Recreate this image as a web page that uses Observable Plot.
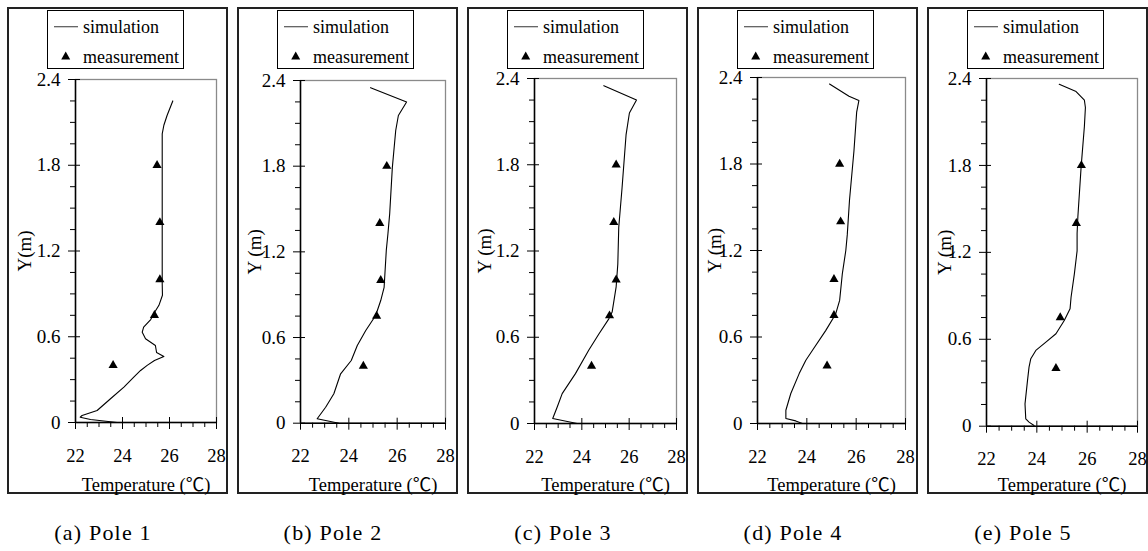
<!DOCTYPE html>
<html><head><meta charset="utf-8">
<script src="https://cdn.jsdelivr.net/npm/d3@7"></script>
<script src="https://cdn.jsdelivr.net/npm/@observablehq/plot@0.6"></script>
<style>
body{margin:0;background:#fff;}
#wrap{position:relative;width:1148px;height:551px;overflow:hidden;font-family:"Liberation Serif","Times New Roman","Noto Sans CJK SC",serif;color:#000;}
.box{position:absolute;box-sizing:border-box;border:2px solid #222;}
.legend{position:absolute;box-sizing:border-box;border:1px solid #000;background:#fff;}
.legend svg{position:absolute;left:0;top:0;}
.cap{position:absolute;font-size:22px;letter-spacing:1.2px;line-height:22px;text-align:center;width:200px;white-space:nowrap;}
.pl{position:absolute;}
</style></head><body><div id="wrap"></div>
<script>
// ---- data ----
const captions = ["(a) Pole 1", "(b) Pole 2", "(c) Pole 3", "(d) Pole 4", "(e) Pole 5"];
const yLabels = ["Y(m)", "Y (m)", "Y (m)", "Y (m)", "Y (m)"];
const xLabel = "Temperature (\u2103)";
const legendNames = ["simulation", "measurement"];
const xTicks = [22, 24, 26, 28];
const yTicks = [0, 0.6, 1.2, 1.8, 2.4];
const xMinor = [22.5, 23, 23.5, 24.5, 25, 25.5, 26.5, 27, 27.5];
const yMinor = [0.15, 0.3, 0.45, 0.75, 0.9, 1.05, 1.35, 1.5, 1.65, 1.95, 2.1, 2.25];

const sim1T = [26.14, 25.9, 25.76, 25.69, 25.69, 25.69, 25.7, 25.55, 25.4, 25.2, 24.9, 24.84, 24.98, 25.4, 25.45, 25.76, 25.36, 25.05, 24.77, 24.48, 24.06, 23.49, 22.92, 22.28, 22.2, 22.64, 23.77];
const sim1Y = [2.25, 2.15, 2.08, 2.02, 1.5, 0.97, 0.89, 0.82, 0.78, 0.72, 0.667, 0.632, 0.586, 0.539, 0.49, 0.462, 0.434, 0.40, 0.364, 0.317, 0.247, 0.166, 0.084, 0.049, 0.037, 0.021, 0.0];
const sim2T = [24.9, 26.39, 26.05, 25.94, 25.8, 25.69, 25.62, 25.55, 25.46, 25.32, 25.11, 24.7, 24.35, 24.1, 23.66, 23.38, 23.04, 22.69, 23.59];
const sim2Y = [2.35, 2.25, 2.155, 2.05, 1.79, 1.466, 1.33, 1.21, 0.952, 0.859, 0.754, 0.649, 0.544, 0.439, 0.346, 0.206, 0.112, 0.031, 0.0];
const sim3T = [24.93, 26.31, 26.01, 25.87, 25.7, 25.56, 25.52, 25.45, 25.28, 25.14, 24.72, 24.29, 23.73, 23.17, 22.96, 22.77, 23.8];
const sim3Y = [2.35, 2.25, 2.16, 2.01, 1.64, 1.365, 1.11, 0.95, 0.775, 0.728, 0.623, 0.509, 0.347, 0.208, 0.115, 0.035, 0.0];
const sim4T = [24.92, 25.71, 26.11, 26.02, 25.91, 25.73, 25.64, 25.58, 25.44, 25.33, 25.17, 24.77, 24.23, 23.96, 23.69, 23.35, 23.15, 23.15, 23.55, 23.82];
const sim4Y = [2.355, 2.27, 2.24, 2.16, 1.89, 1.55, 1.31, 1.2, 1.04, 0.854, 0.76, 0.646, 0.508, 0.439, 0.346, 0.208, 0.092, 0.035, 0.018, 0.0];
const sim5T = [24.89, 25.56, 25.89, 25.93, 25.89, 25.76, 25.63, 25.6, 25.6, 25.49, 25.36, 25.32, 25.09, 24.76, 24.36, 23.96, 23.76, 23.69, 23.63, 23.53, 23.56, 23.69, 23.89];
const sim5Y = [2.36, 2.31, 2.25, 2.2, 2.07, 1.79, 1.444, 1.33, 1.21, 1.05, 0.89, 0.81, 0.73, 0.638, 0.58, 0.523, 0.466, 0.408, 0.316, 0.154, 0.051, 0.028, 0.005];

const meas1T = [25.47, 25.59, 25.59, 25.36, 23.6];
const meas1Y = [1.8, 1.4, 1.0, 0.75, 0.4];
const meas2T = [25.57, 25.28, 25.32, 25.15, 24.6];
const meas2Y = [1.8, 1.4, 1.0, 0.75, 0.4];
const meas3T = [25.45, 25.35, 25.45, 25.17, 24.41];
const meas3Y = [1.8, 1.4, 1.0, 0.75, 0.4];
const meas4T = [25.33, 25.37, 25.1, 25.1, 24.82];
const meas4Y = [1.8, 1.4, 1.0, 0.75, 0.4];
const meas5T = [25.77, 25.57, 24.93, 24.76];
const meas5Y = [1.8, 1.4, 0.75, 0.4];

// ---- layout (page pixels) ----
const layout = [
  {left: 7,   axis: 75,  right: 216,  top: 79, bottom: 422},
  {left: 237, axis: 300, right: 445,  top: 80, bottom: 422.7},
  {left: 467, axis: 534, right: 676,  top: 78, bottom: 423},
  {left: 697, axis: 757, right: 905,  top: 77, bottom: 423},
  {left: 927, axis: 986, right: 1137, top: 78, bottom: 425.7}
];
const BOX_W = 221, BOX_TOP = 7, BOX_BOTTOM = 494;
const FONT = '"Liberation Serif","Times New Roman","Noto Sans CJK SC",serif';

const sims = [[sim1T, sim1Y], [sim2T, sim2Y], [sim3T, sim3Y], [sim4T, sim4Y], [sim5T, sim5Y]];
const meas = [[meas1T, meas1Y], [meas2T, meas2Y], [meas3T, meas3Y], [meas4T, meas4Y], [meas5T, meas5Y]];

const wrap = document.getElementById("wrap");
const NS = "http://www.w3.org/2000/svg";
const blank = () => "";
const plain = (d) => String(d);

layout.forEach((L, i) => {
  const box = document.createElement("div");
  box.className = "box";
  Object.assign(box.style, {left: L.left + "px", top: BOX_TOP + "px", width: BOX_W + "px", height: (BOX_BOTTOM - BOX_TOP) + "px"});
  wrap.appendChild(box);

  const simData = sims[i][0].map((t, j) => ({t, y: sims[i][1][j]}));
  const measData = meas[i][0].map((t, j) => ({t, y: meas[i][1][j]}));

  const svg = Plot.plot({
    width: BOX_W,
    height: BOX_BOTTOM - BOX_TOP,
    marginLeft: L.axis - L.left,
    marginRight: L.left + BOX_W - L.right,
    marginTop: L.top - BOX_TOP,
    marginBottom: BOX_BOTTOM - L.bottom,
    x: {domain: [22, 28]},
    y: {domain: [0, 2.4]},
    style: {background: "transparent", fontFamily: FONT, fontSize: "18px", color: "#000", overflow: "visible"},
    marks: [
      Plot.frame({stroke: "#8a8a8a", strokeWidth: 1.3}),
      Plot.axisY(yMinor, {tickSize: 5, tickFormat: blank, label: null, stroke: "#000"}),
      Plot.axisY(yTicks, {tickSize: 7, tickFormat: blank, label: null, stroke: "#000"}),
      Plot.axisY(yTicks, {tickSize: -5, tickFormat: blank, label: null, stroke: "#000"}),
      Plot.axisY(yTicks, {tickSize: 0, tickPadding: 15, fontSize: 19, tickFormat: plain, label: yLabels[i], labelAnchor: "center", labelArrow: false, labelOffset: L.axis - L.left - 10}),
      Plot.axisX(xMinor, {tickSize: 5, tickFormat: blank, label: null, stroke: "#000"}),
      Plot.axisX(xTicks, {tickSize: 7, tickFormat: blank, label: null, stroke: "#000"}),
      Plot.axisX(xTicks, {tickSize: -5, tickFormat: blank, label: null, stroke: "#000"}),
      Plot.axisX(xTicks, {tickSize: 0, tickPadding: 26, fontSize: 18.5, tickFormat: plain, label: xLabel, labelAnchor: "center", labelArrow: false, labelOffset: 490 - L.bottom}),
      Plot.ruleX([22], {stroke: "#000", strokeWidth: 1.5}),
      Plot.ruleY([0], {stroke: "#000", strokeWidth: 1.5}),
      Plot.line(simData, {x: "t", y: "y", stroke: "#000", strokeWidth: 1.1}),
      Plot.dot(measData, {x: "t", y: "y", symbol: "triangle", r: 3.4, fill: "#000", stroke: "none"})
    ]
  });
  svg.classList.add("pl");
  svg.style.left = L.left + "px";
  svg.style.top = BOX_TOP + "px";
  wrap.appendChild(svg);

  // legend
  const lg = document.createElement("div");
  lg.className = "legend";
  Object.assign(lg.style, {left: (L.left + 40) + "px", top: "10px", width: "137px", height: "59px"});
  const ls = document.createElementNS(NS, "svg");
  ls.setAttribute("width", 135); ls.setAttribute("height", 57);
  ls.innerHTML =
    `<line x1="6" y1="15.7" x2="30" y2="15.7" stroke="#555" stroke-width="1.2"/>` +
    `<text x="35" y="22.3" font-family='${FONT}' font-size="18">${legendNames[0]}</text>` +
    `<path d="M17.7,40.6L22.2,48.4L13.2,48.4Z" fill="#000"/>` +
    `<text x="35" y="51.7" font-family='${FONT}' font-size="18">${legendNames[1]}</text>`;
  lg.appendChild(ls);
  wrap.appendChild(lg);

  // caption
  const cap = document.createElement("div");
  cap.className = "cap";
  cap.textContent = captions[i];
  Object.assign(cap.style, {left: (L.left + 96 - 100) + "px", top: "522px"});
  wrap.appendChild(cap);
});
</script></body></html>
